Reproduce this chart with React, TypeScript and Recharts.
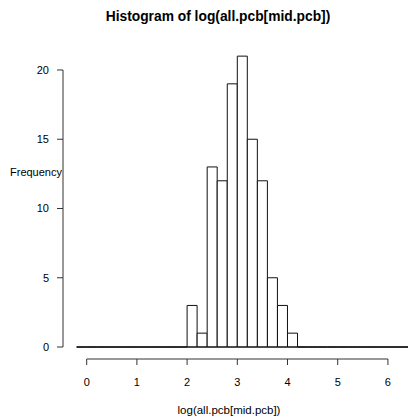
import { Bar, ComposedChart, ReferenceLine, XAxis, YAxis } from 'recharts'

// histogram breaks (bin edges) and counts per bin
const breaks = [
  -0.2, 0, 0.2, 0.4, 0.6, 0.8, 1, 1.2, 1.4, 1.6, 1.8, 2, 2.2, 2.4, 2.6, 2.8, 3, 3.2,
  3.4, 3.6, 3.8, 4, 4.2, 4.4, 4.6, 4.8, 5, 5.2, 5.4, 5.6, 5.8, 6, 6.2, 6.4, 6.6,
]
const counts = [
  0, 0, 0, 0, 0, 0, 0, 0, 0, 0, 0, 3, 1, 13, 12, 19, 21, 15, 12, 5, 3, 1, 0, 0, 0,
  0, 0, 0, 0, 0, 0, 0, 0, 0,
]
const xTicks = [0, 1, 2, 3, 4, 5, 6]
const yTicks = [0, 5, 10, 15, 20]

const title = 'Histogram of log(all.pcb[mid.pcb])'
const xLabel = 'log(all.pcb[mid.pcb])'
const yLabel = 'Frequency'

const data = counts.map((count, i) => ({
  mid: (breaks[i] + breaks[i + 1]) / 2,
  count,
}))

const X_DOMAIN: [number, number] = [-0.472, 6.872]
const Y_DOMAIN: [number, number] = [-0.866, 21.84]
const FONT = '"Liberation Sans", Arial, sans-serif'

function HistRect(props: any) {
  const { x, y, width, height } = props
  if (x == null || y == null || width == null) return <g />
  const h = Math.max(height || 0, 0)
  const d = `M${x},${y + h}V${y}H${x + width}V${y + h}Z`
  return <path d={d} fill="#fff" stroke="#111" strokeWidth={1} />
}

export default function App() {
  return (
    <div
      style={{
        position: 'fixed',
        left: 0,
        top: 0,
        width: 408,
        height: 419,
        overflow: 'hidden',
        background: '#fff',
        fontFamily: FONT,
      }}
    >
      <ComposedChart
        width={440}
        height={419}
        data={data}
        margin={{ top: 44.5, right: 8.3, left: 0, bottom: 0 }}
        barCategoryGap={0}
        barGap={0}
      >
        <XAxis
          type="number"
          dataKey="mid"
          domain={X_DOMAIN}
          ticks={xTicks}
          allowDataOverflow
          height={60}
          axisLine={false}
          tickSize={6}
          tickMargin={13}
          tickLine={{ stroke: '#333' }}
          tick={{ fontSize: 11, fill: '#000', fontFamily: FONT }}
        />
        <YAxis
          type="number"
          domain={Y_DOMAIN}
          ticks={yTicks}
          allowDataOverflow
          width={63}
          axisLine={false}
          tickSize={6}
          tickMargin={8}
          tickLine={{ stroke: '#333' }}
          tick={{ fontSize: 11, fill: '#000', fontFamily: FONT }}
        />
        <ReferenceLine
          segment={[
            { x: xTicks[0], y: Y_DOMAIN[0] },
            { x: xTicks[xTicks.length - 1], y: Y_DOMAIN[0] },
          ]}
          stroke="#333"
          ifOverflow="visible"
        />
        <ReferenceLine
          segment={[
            { x: X_DOMAIN[0], y: yTicks[0] },
            { x: X_DOMAIN[0], y: yTicks[yTicks.length - 1] },
          ]}
          stroke="#333"
          ifOverflow="visible"
        />
        <ReferenceLine
          segment={[
            { x: breaks[0], y: 0 },
            { x: breaks[breaks.length - 1], y: 0 },
          ]}
          stroke="#111"
          ifOverflow="visible"
        />
        <Bar dataKey="count" shape={HistRect} isAnimationActive={false} />
      </ComposedChart>
      <div
        style={{
          position: 'absolute',
          left: 0,
          width: 436,
          top: 8,
          textAlign: 'center',
          fontWeight: 'bold',
          fontSize: 13.8,
          lineHeight: '18px',
          color: '#000',
        }}
      >
        {title}
      </div>
      <div
        style={{
          position: 'absolute',
          left: 0,
          width: 458,
          top: 401,
          textAlign: 'center',
          fontSize: 11.5,
          lineHeight: '18px',
          color: '#000',
        }}
      >
        {xLabel}
      </div>
      <div
        style={{
          position: 'absolute',
          left: 10,
          top: 163,
          fontSize: 11,
          lineHeight: '18px',
          color: '#000',
        }}
      >
        {yLabel}
      </div>
    </div>
  )
}
